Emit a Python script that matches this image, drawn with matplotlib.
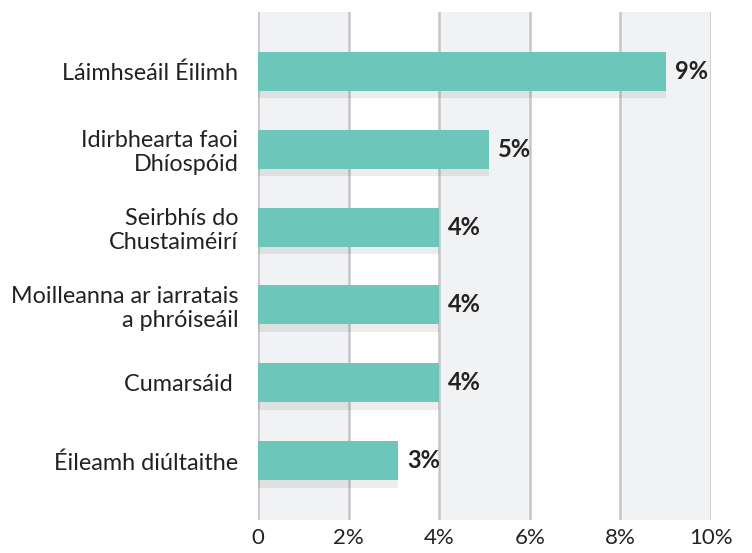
import numpy as np
import matplotlib.pyplot as plt

plt.rcParams['font.family'] = ['Lato', 'DejaVu Sans']

# Datos
categorias = ["Láimhseáil Éilimh", "Idirbhearta faoi\nDhíospóid", "Seirbhís do\nChustaiméirí",
              "Moilleanna ar iarratais\na phróiseáil", "Cumarsáid ", "Éileamh diúltaithe"]
valores = [9.0, 5.1, 4.0, 4.0, 4.0, 3.1]
etiquetas = ["9%", "5%", "4%", "4%", "4%", "3%"]
ticks_x = [0, 2, 4, 6, 8, 10]
ticks_x_txt = ["0", "2%", "4%", "6%", "8%", "10%"]

fig = plt.figure(figsize=(7.52, 5.53), dpi=100)
ax = fig.add_axes([0.343, 0.060, 0.6025, 0.918])

y = np.arange(len(categorias))
alto = 0.5

# Bandas alternas de fondo
for i in range(0, len(ticks_x) - 1, 2):
    ax.axvspan(ticks_x[i], ticks_x[i + 1], color="#f1f2f4", zorder=0, lw=0)
for t in ticks_x:
    ax.axvline(t, color="#c6c6c8", lw=1.8, zorder=1)

# Sombra de las barras
ax.barh(y + 0.1, valores, height=alto, color="black", alpha=0.07, zorder=2)
ax.barh(y, valores, height=alto, color="#6cc6b9", zorder=3)

for yi, v, txt in zip(y, valores, etiquetas):
    ax.text(v + 0.2, yi, txt, va="center", ha="left", fontsize=17,
            fontweight="bold", color="#222222", zorder=4)

ax.set_xlim(0, 10)
ax.set_ylim(len(categorias) - 1 + 0.756, -0.756)
ax.set_xticks(ticks_x)
ax.set_xticklabels(ticks_x_txt, fontsize=16, color="#222222")
ax.set_yticks(y)
ax.set_yticklabels(categorias, fontsize=16.8, color="#222222", linespacing=1.15)
ax.tick_params(length=0, axis="y", pad=14)
ax.tick_params(length=0, axis="x", pad=6)
for s in ax.spines.values():
    s.set_visible(False)

fig.savefig("out.png", dpi=100)
